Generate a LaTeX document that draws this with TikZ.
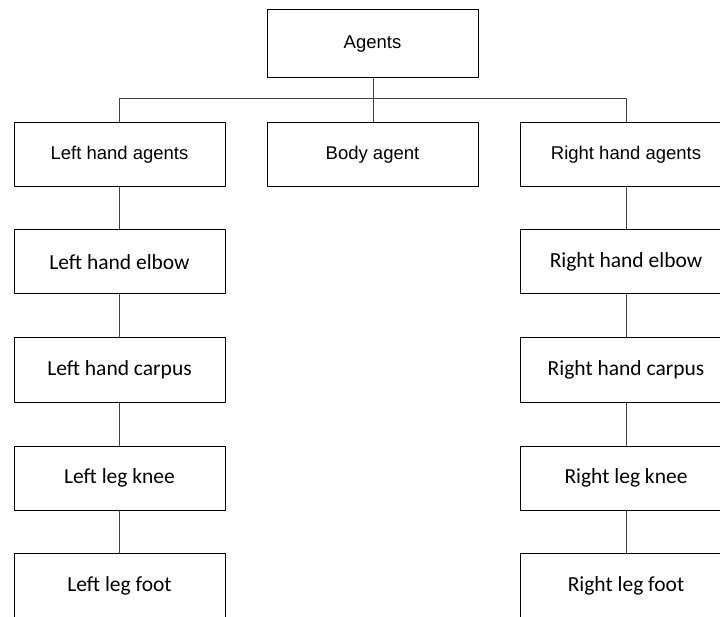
\documentclass[tikz,border=0pt]{standalone}
\usepackage{fontspec}
\usepackage{tikz}
\usetikzlibrary{calc}
\newfontfamily\arialfont{Liberation Sans}
\newfontfamily\calfont{Carlito}

\begin{document}
\begin{tikzpicture}[line cap=round,line join=round,x=1pt,y=-1pt,
  agentbox/.style={draw=black,line width=1pt,rectangle,minimum width=211pt,minimum height=64pt,inner sep=0pt},
  topfont/.style={font=\arialfont\fontsize{18.5}{22}\selectfont},
  lowfont/.style={font=\calfont\fontsize{21.5}{26}\selectfont},
  link/.style={draw=black!75,line width=1pt}]
\useasboundingbox (0,0) rectangle (720,617);
\clip (0,0) rectangle (720,617);
\node[agentbox,topfont,minimum height=68pt] (agents) at (372.5,44) {Agents};
\node[agentbox,topfont] (lhagents) at (119.5,155) {Left hand agents};
\node[agentbox,topfont] (body) at (372.5,155) {Body agent};
\node[agentbox,topfont] (rhagents) at (626,155) {Right hand agents};
\node[agentbox,lowfont] (lhelbow) at (119.5,262) {Left hand elbow};
\node[agentbox,lowfont] (lhcarpus) at (119.5,370) {Left hand carpus};
\node[agentbox,lowfont] (llknee) at (119.5,478) {Left leg knee};
\node[agentbox,lowfont] (llfoot) at (119.5,585.5) {Left leg foot};
\node[agentbox,lowfont] (rhelbow) at (626,262) {Right hand elbow};
\node[agentbox,lowfont] (rhcarpus) at (626,370) {Right hand carpus};
\node[agentbox,lowfont] (rlknee) at (626,478) {Right leg knee};
\node[agentbox,lowfont] (rlfoot) at (626,585.5) {Right leg foot};
\coordinate (bus) at (373.5,99);
\draw[link] (agents.south -| bus) -- (body.north -| bus);
\draw[link] (lhagents.north) -- (lhagents.north |- bus) -- (rhagents.north |- bus) -- (rhagents.north);
\draw[link] (lhagents) -- (lhelbow);
\draw[link] (lhelbow) -- (lhcarpus);
\draw[link] (lhcarpus) -- (llknee);
\draw[link] (llknee) -- (llfoot);
\draw[link] (rhagents) -- (rhelbow);
\draw[link] (rhelbow) -- (rhcarpus);
\draw[link] (rhcarpus) -- (rlknee);
\draw[link] (rlknee) -- (rlfoot);
\end{tikzpicture}
\end{document}
